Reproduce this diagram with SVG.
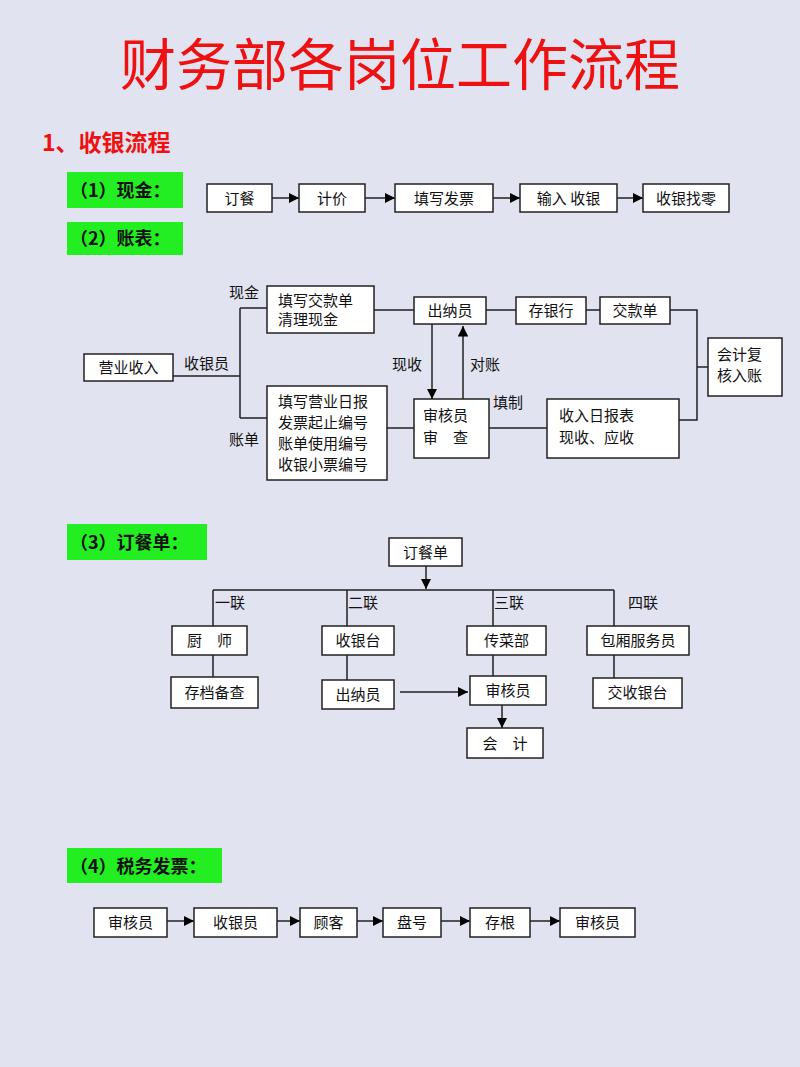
<svg xmlns="http://www.w3.org/2000/svg" width="800" height="1067" viewBox="0 0 800 1067">
<defs>
<marker id="ah" viewBox="0 0 10 10" refX="10" refY="5" markerWidth="7" markerHeight="7" orient="auto"><path d="M0,0L10,5L0,10z" fill="#000"/></marker>
<style>
.b{fill:#fff;stroke:#222;stroke-width:1.5}
.t{font-family:"Noto Sans CJK SC","Noto Sans",sans-serif;font-size:15px;fill:#111}
.g{fill:#22ee22}
.gt{font-family:"Noto Sans CJK SC",serif;font-size:18px;font-weight:bold;fill:#111}
.l{stroke:#222;stroke-width:1.5;fill:none}
.a{stroke:#222;stroke-width:1.5;fill:none;marker-end:url(#ah)}
</style>
</defs>
<rect width="800" height="1067" fill="#e1e3f0"/>
<text x="400" y="85" text-anchor="middle" font-family="Noto Sans CJK SC,sans-serif" font-size="56" fill="#ee1111">财务部各岗位工作流程</text>
<text x="42" y="151" font-family="Noto Sans CJK SC,sans-serif" font-size="23" font-weight="bold" fill="#ee1111">1、收银流程</text>
<g id="labels">
<rect class="g" x="67" y="172" width="116" height="36"/><text class="gt" x="70" y="197">（1）现金：</text>
<rect class="g" x="67" y="222" width="116" height="33"/><text class="gt" x="70" y="245">（2）账表：</text>
<rect class="g" x="67" y="524" width="140" height="36"/><text class="gt" x="70" y="549">（3）订餐单：</text>
<rect class="g" x="67" y="848" width="155" height="35"/><text class="gt" x="70" y="873">（4）税务发票：</text>
</g>
<g id="connectors">
<path class="a" d="M272,198H299"/><path class="a" d="M365,198H395"/><path class="a" d="M493,198H520"/><path class="a" d="M617,198H643"/>
<path class="l" d="M173,376H240M240,308V418M240,308H267M240,418H267M374,310H414M486,310H516M586,310H600M670,310H697V420H679M697,367H708M387,428H414M489,428H547"/>
<path class="a" d="M432,324V399"/><path class="a" d="M463,399V326"/>
<path class="a" d="M426,566V589"/>
<path class="l" d="M213,590H614M213,590V626M347,590V626M493,590V626M614,590V626M213,655V677M347,655V680M493,655V676M614,655V678"/>
<path class="a" d="M400,692H468"/><path class="a" d="M502,705V728"/>
<path class="a" d="M167,921H194"/><path class="a" d="M277,921H300"/><path class="a" d="M357,921H383"/><path class="a" d="M441,921H470"/><path class="a" d="M530,921H560"/>
</g>
<g id="edge-labels" class="t">
<text x="184" y="369">收银员</text><text x="229" y="298">现金</text><text x="229" y="445">账单</text>
<text x="392" y="370">现收</text><text x="470" y="370">对账</text><text x="493" y="408">填制</text>
<text x="215" y="608">一联</text><text x="348" y="608">二联</text><text x="494" y="608">三联</text><text x="628" y="608">四联</text>
</g>
<g id="n1"><rect class="b" x="207" y="184" width="65" height="28"/><text class="t" x="239.5" y="204" text-anchor="middle">订餐</text></g>
<g id="n2"><rect class="b" x="299" y="184" width="66" height="28"/><text class="t" x="332" y="204" text-anchor="middle">计价</text></g>
<g id="n3"><rect class="b" x="395" y="184" width="98" height="28"/><text class="t" x="444" y="204" text-anchor="middle">填写发票</text></g>
<g id="n4"><rect class="b" x="520" y="184" width="97" height="28"/><text class="t" x="568.5" y="204" text-anchor="middle">输入 收银</text></g>
<g id="n5"><rect class="b" x="643" y="184" width="86" height="28"/><text class="t" x="686" y="204" text-anchor="middle">收银找零</text></g>
<g id="s1"><rect class="b" x="84" y="354" width="89" height="27"/><text class="t" x="128.5" y="373" text-anchor="middle">营业收入</text></g>
<g id="s2"><rect class="b" x="267" y="286" width="107" height="47"/><text class="t" x="278" y="306">填写交款单</text><text class="t" x="278" y="325">清理现金</text></g>
<g id="s3"><rect class="b" x="414" y="297" width="72" height="27"/><text class="t" x="450" y="316" text-anchor="middle">出纳员</text></g>
<g id="s4"><rect class="b" x="516" y="297" width="70" height="27"/><text class="t" x="551" y="316" text-anchor="middle">存银行</text></g>
<g id="s5"><rect class="b" x="600" y="297" width="70" height="27"/><text class="t" x="635" y="316" text-anchor="middle">交款单</text></g>
<g id="s6"><rect class="b" x="708" y="338" width="74" height="58"/><text class="t" x="717" y="360">会计复</text><text class="t" x="717" y="381">核入账</text></g>
<g id="s7"><rect class="b" x="267" y="386" width="120" height="94"/><text class="t" x="278" y="407">填写营业日报</text><text class="t" x="278" y="428">发票起止编号</text><text class="t" x="278" y="449">账单使用编号</text><text class="t" x="278" y="470">收银小票编号</text></g>
<g id="s8"><rect class="b" x="414" y="399" width="75" height="59"/><text class="t" x="423" y="421">审核员</text><text class="t" x="423" y="443">审　查</text></g>
<g id="s9"><rect class="b" x="547" y="399" width="132" height="59"/><text class="t" x="559" y="421">收入日报表</text><text class="t" x="559" y="443">现收、应收</text></g>
<g id="o0"><rect class="b" x="389" y="538" width="73" height="28"/><text class="t" x="425.5" y="558" text-anchor="middle">订餐单</text></g>
<g id="o1"><rect class="b" x="172" y="626" width="75" height="29"/><text class="t" x="209.5" y="646" text-anchor="middle">厨　师</text></g>
<g id="o2"><rect class="b" x="322" y="626" width="72" height="29"/><text class="t" x="358" y="646" text-anchor="middle">收银台</text></g>
<g id="o3"><rect class="b" x="467" y="626" width="79" height="29"/><text class="t" x="506.5" y="646" text-anchor="middle">传菜部</text></g>
<g id="o4"><rect class="b" x="587" y="626" width="102" height="29"/><text class="t" x="638" y="646" text-anchor="middle">包厢服务员</text></g>
<g id="o5"><rect class="b" x="171" y="677" width="87" height="31"/><text class="t" x="214.5" y="698" text-anchor="middle">存档备查</text></g>
<g id="o6"><rect class="b" x="322" y="680" width="72" height="29"/><text class="t" x="358" y="700" text-anchor="middle">出纳员</text></g>
<g id="o7"><rect class="b" x="470" y="676" width="76" height="29"/><text class="t" x="508" y="696" text-anchor="middle">审核员</text></g>
<g id="o8"><rect class="b" x="593" y="678" width="89" height="30"/><text class="t" x="637.5" y="698" text-anchor="middle">交收银台</text></g>
<g id="o9"><rect class="b" x="467" y="728" width="76" height="30"/><text class="t" x="505" y="749" text-anchor="middle">会　计</text></g>
<g id="t1"><rect class="b" x="94" y="908" width="73" height="29"/><text class="t" x="130.5" y="928" text-anchor="middle">审核员</text></g>
<g id="t2"><rect class="b" x="194" y="908" width="83" height="29"/><text class="t" x="235.5" y="928" text-anchor="middle">收银员</text></g>
<g id="t3"><rect class="b" x="300" y="908" width="57" height="29"/><text class="t" x="328.5" y="928" text-anchor="middle">顾客</text></g>
<g id="t4"><rect class="b" x="383" y="908" width="58" height="29"/><text class="t" x="412" y="928" text-anchor="middle">盘号</text></g>
<g id="t5"><rect class="b" x="470" y="908" width="60" height="29"/><text class="t" x="500" y="928" text-anchor="middle">存根</text></g>
<g id="t6"><rect class="b" x="560" y="908" width="75" height="29"/><text class="t" x="597.5" y="928" text-anchor="middle">审核员</text></g>
</svg>
